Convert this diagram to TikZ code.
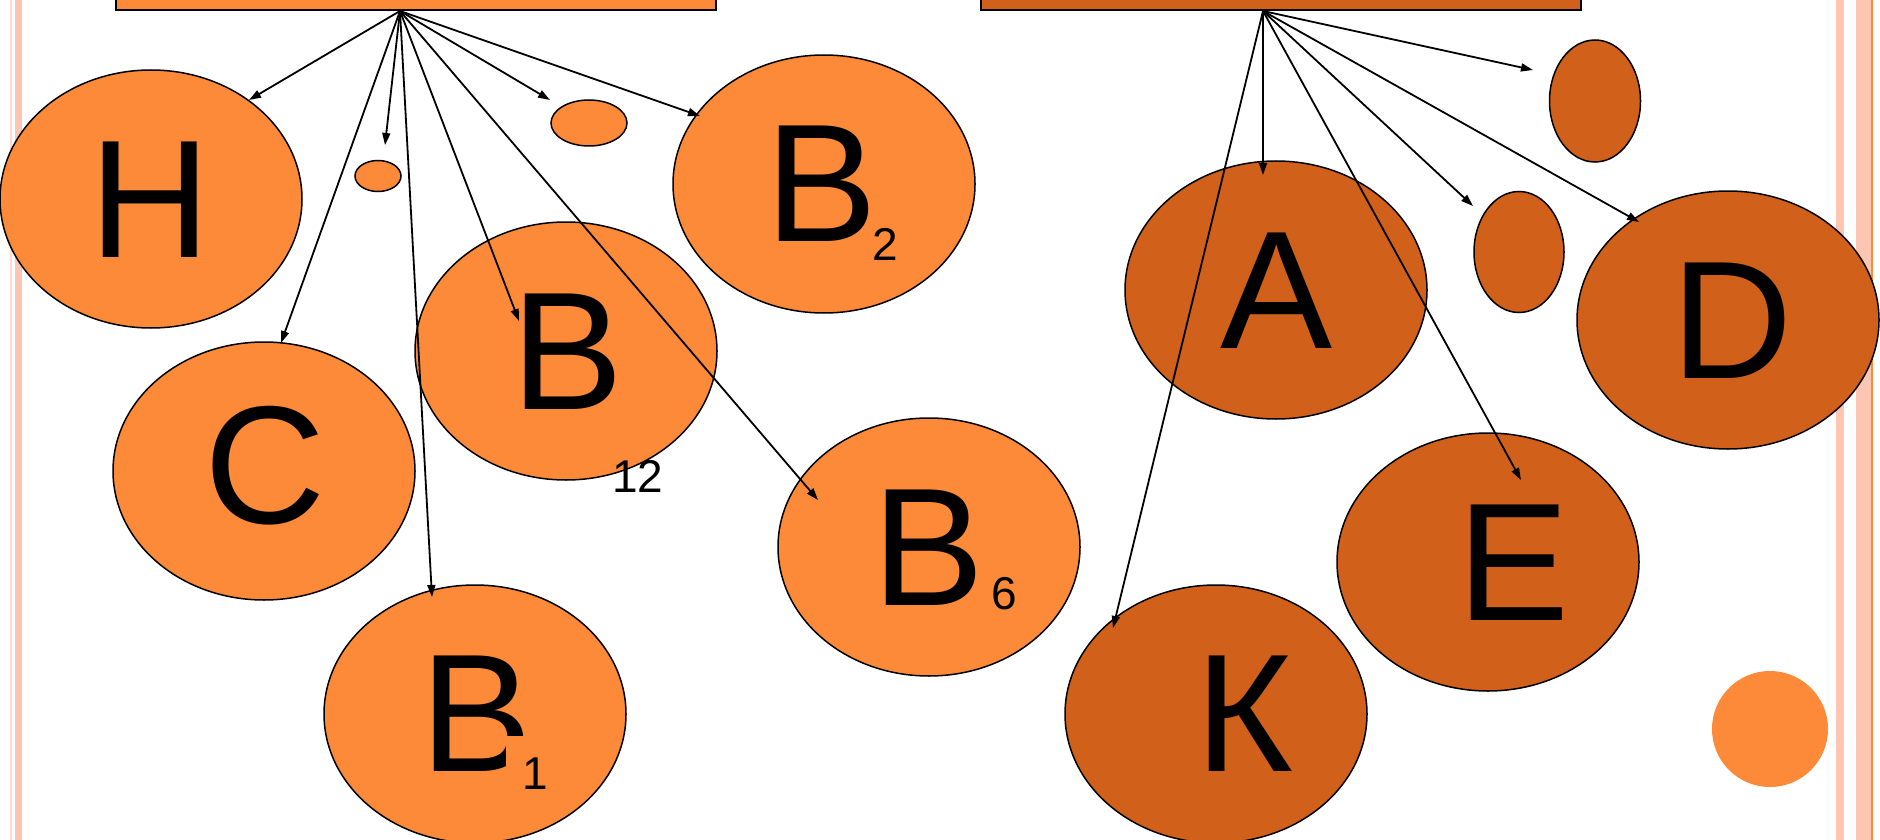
\documentclass[tikz,border=0pt]{standalone}
\usepackage{fontspec}
\setmainfont{Liberation Sans}
\usetikzlibrary{shapes.geometric,arrows.meta}
\definecolor{lor}{RGB}{253,138,56}
\definecolor{dor}{RGB}{209,96,26}
\definecolor{stripe}{RGB}{253,198,178}
\definecolor{stripelt}{RGB}{255,218,204}
\tikzset{
  oval/.style={ellipse, draw=black, line width=0.75pt, inner sep=0pt},
  light/.style={oval, fill=lor},
  dark/.style={oval, fill=dor},
  big/.style={minimum width=151pt, minimum height=129pt},
  topbox/.style={draw=black, line width=0.75pt, minimum width=300pt, minimum height=50pt, anchor=south west, inner sep=0pt},
  lab/.style={font=\fontsize{84}{84}\selectfont, inner sep=0pt, anchor=base},
  subs/.style={font=\fontsize{23}{23}\selectfont, inner sep=0pt, anchor=base},
  conn/.style={line width=0.9pt, -{Triangle[length=6pt,width=4pt]}}
}
\begin{document}
\begin{tikzpicture}[x=0.5pt, y=-0.5pt]
\useasboundingbox (0,0) rectangle (1880,840);
\clip (0,0) rectangle (1880,840);
\fill[white] (0,0) rectangle (1880,840);

% side stripes
\fill[stripelt] (10,0) rectangle (12,840);
\fill[stripe] (15,0) rectangle (22,840);
\fill[stripe] (1836,0) rectangle (1844,840);
\fill[stripe] (1856,0) rectangle (1871,840);
\fill[lor] (1871,0) rectangle (1873,840);

% parent boxes and the points the connectors leave from
\node[topbox, fill=lor] (lbox) at (115,11) {};
\node[topbox, fill=dor] (rbox) at (980,11) {};
\coordinate (lsrc) at (400,11);
\coordinate (rsrc) at (1263,11);

% left group
\node[light, big] (eH) at (151,199) {};
\node[light, minimum width=23pt, minimum height=15.5pt] (es1) at (378,176) {};
\node[light, minimum width=38pt, minimum height=23pt] (es2) at (589,123) {};
\node[light, big] (eB2) at (824,184) {};
\node[light, big] (eB12) at (566,351) {};
\node[light, big] (eC) at (264,471) {};
\node[light, big] (eB1) at (475,714) {};
\node[light, big] (eB6) at (929,547) {};

% right group
\node[dark, minimum width=45.5pt, minimum height=61pt] (et1) at (1595,101) {};
\node[dark, minimum width=45pt, minimum height=60.5pt] (et2) at (1519,252) {};
\node[dark, big] (eA) at (1276,290) {};
\node[dark, big] (eD) at (1728,320) {};
\node[dark, big] (eE) at (1488,562) {};
\node[dark, big] (eK) at (1216,714) {};

% decorative dot
\fill[lor] (1770,729) circle (29pt);

% letters
\node[lab] (tH) at (150,257) {H};
\node[lab] (tC) at (265,523) {C};
\node[lab] (tB12) at (568,409) {B};
\node[subs] (sB12) at (638,492) {12};
\node[lab] (tB2) at (822,242) {B};
\node[subs] (sB2) at (885,260) {2};
\node[lab] (tB1) at (477,771) {B};
\fill[lor] (506,736) rectangle (556,800);
\node[subs] (sB1) at (535,789) {1};
\node[lab] (tB6) at (929,605) {B};
\node[subs] (sB6) at (1004,609) {6};
\node[lab] (tA) at (1277,348) {A};
\node[lab] (tD) at (1732,378) {D};
\node[lab] (tE) at (1514,620) {E};
\node[lab] (tK) at (1244,771) {К};

% arrow tips
\coordinate (pH) at (249,100);
\coordinate (ps1) at (385,145);
\coordinate (pC) at (281,343);
\coordinate (pB1) at (432,597);
\coordinate (pB12) at (519,321);
\coordinate (ps2) at (550,100);
\coordinate (pB2) at (700,116);
\coordinate (pB6) at (818,500);
\coordinate (pK) at (1113,628);
\coordinate (pA) at (1263,175);
\coordinate (pE) at (1521,480);
\coordinate (pt2) at (1473,206);
\coordinate (pD) at (1639,222);
\coordinate (pt1) at (1533,70);

% connectors
\foreach \t in {pH,ps1,pC,pB1,pB12,ps2,pB2,pB6}
  \draw[conn] (lsrc) -- (\t);
\foreach \t in {pK,pA,pE,pt2,pD,pt1}
  \draw[conn] (rsrc) -- (\t);
\end{tikzpicture}
\end{document}
